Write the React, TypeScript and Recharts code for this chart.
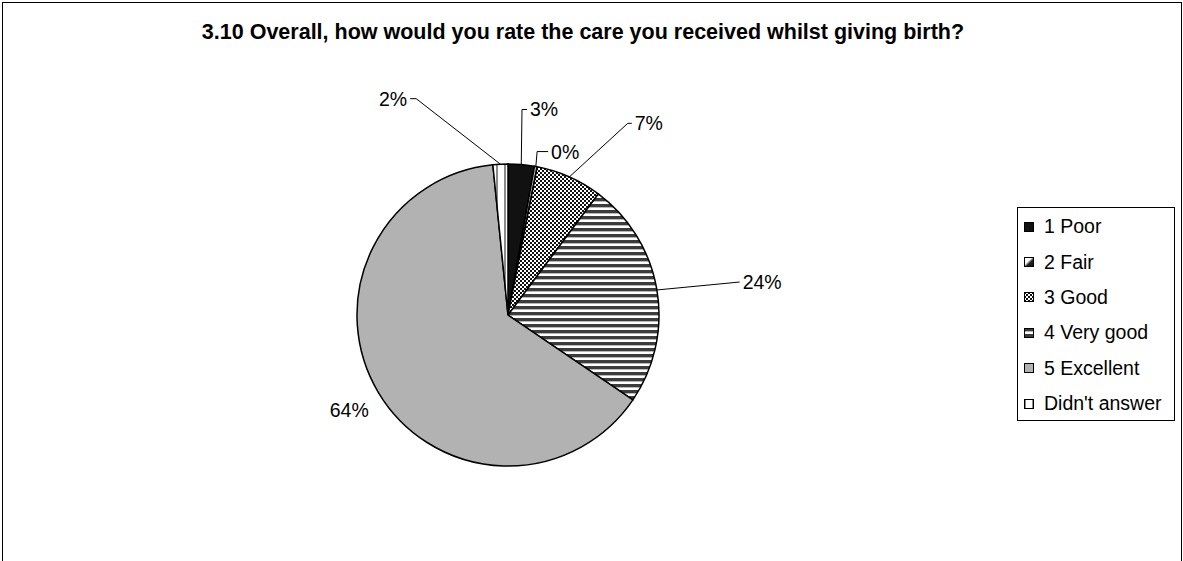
import { PieChart, Pie, Cell, Legend } from 'recharts';

const categories = ['1 Poor', '2 Fair', '3 Good', '4 Very good', '5 Excellent', "Didn't answer"];
const shares = [2.8, 0.3, 7.1, 24.3, 63.9, 1.6];
const fills = ['#111111', 'url(#grad-fair)', 'url(#pat-good)', 'url(#pat-vgood)', '#b2b2b2', 'url(#pat-na)'];

// where each data label sits: angle clockwise from 12 o'clock, distance from the pie centre
const labelSpots = [
  { angle: 3.9, r: 206, tail: 5, line: true },
  { angle: 10.1, r: 166, tail: 11, line: true },
  { angle: 32.0, r: 226, tail: 4, line: true },
  { angle: 81.9, r: 234, tail: 0, line: true },
  { angle: 239.1, r: 185, tail: 0, line: false },
  { angle: 337.0, r: 235, tail: 6, line: true },
];

const font = '"Liberation Sans", Arial, sans-serif';
const RADIAN = Math.PI / 180;

const data = categories.map((name, i) => ({ name, value: shares[i] }));

const renderLabel = (props: any) => {
  const { cx, cy, midAngle, outerRadius, percent, index } = props;
  const spot = labelSpots[index];
  const mid = 90 - midAngle;
  const ax = cx + outerRadius * Math.sin(mid * RADIAN);
  const ay = cy - outerRadius * Math.cos(mid * RADIAN);
  const ex = cx + spot.r * Math.sin(spot.angle * RADIAN);
  const ey = cy - spot.r * Math.cos(spot.angle * RADIAN);
  const right = spot.angle < 180;
  const hx = ex + (right ? spot.tail : -spot.tail);
  const text = `${Math.round(percent * 100)}%`;
  return (
    <g key={`lbl-${index}`}>
      {spot.line && (
        <polyline points={`${ax},${ay} ${ex},${ey} ${hx},${ey}`} fill="none" stroke="#000" strokeWidth={1} />
      )}
      <text
        x={spot.line ? hx + (right ? 3 : -3) : ex}
        y={ey}
        textAnchor={spot.line ? (right ? 'start' : 'end') : 'middle'}
        dominantBaseline="central"
        fontFamily={font}
        fontSize={19.5}
        fill="#000"
      >
        {text}
      </text>
    </g>
  );
};

const LegendBox = () => (
  <div
    style={{
      border: '1px solid #000',
      background: '#fff',
      width: 158,
      height: 214,
      boxSizing: 'border-box',
      paddingTop: 1,
      fontFamily: font,
      fontSize: 19.5,
      color: '#000',
    }}
  >
    {categories.map((c, i) => (
      <div key={c} style={{ display: 'flex', alignItems: 'center', height: 35.4, paddingLeft: 6 }}>
        <svg width={10} height={10} style={{ flexShrink: 0 }}>
          <rect x={0.5} y={0.5} width={9} height={9} fill={fills[i]} stroke="#000" strokeWidth={1} />
        </svg>
        <span style={{ marginLeft: 10, whiteSpace: 'nowrap' }}>{c}</span>
      </div>
    ))}
  </div>
);

const Patterns = () => (
  <svg width={0} height={0} style={{ position: 'absolute' }}>
    <defs>
      <linearGradient id="grad-fair" x1="0" y1="0" x2="1" y2="1">
        <stop offset="0%" stopColor="#fff" />
        <stop offset="40%" stopColor="#fff" />
        <stop offset="60%" stopColor="#222" />
        <stop offset="100%" stopColor="#111" />
      </linearGradient>
      <pattern id="pat-good" width={4} height={4} patternUnits="userSpaceOnUse">
        <rect width={4} height={4} fill="#fff" />
        <rect x={0} y={0} width={2} height={2} fill="#111" />
        <rect x={2} y={2} width={2} height={2} fill="#111" />
      </pattern>
      <pattern id="pat-vgood" width={6} height={6} patternUnits="userSpaceOnUse">
        <rect width={6} height={6} fill="#fff" />
        <rect x={0} y={0} width={6} height={3} fill="#3c3c3c" />
        <rect x={0} y={3} width={6} height={1} fill="#b8b8b8" />
      </pattern>
      <pattern id="pat-na" width={8} height={8} patternUnits="userSpaceOnUse">
        <rect width={8} height={8} fill="#fff" />
        <rect x={0} y={0} width={2} height={8} fill="#8a8a8a" />
      </pattern>
    </defs>
  </svg>
);

export default function App() {
  return (
    <div style={{ position: 'absolute', left: 0, top: 0, width: 1183, height: 561, background: '#fff', overflow: 'hidden' }}>
      <Patterns />
      <div
        style={{
          position: 'absolute',
          left: 2,
          top: 2,
          width: 1180,
          height: 570,
          border: '1px solid #000',
          boxSizing: 'border-box',
        }}
      />
      <div
        style={{
          position: 'absolute',
          left: 0,
          width: 1166,
          top: 20,
          textAlign: 'center',
          fontFamily: font,
          fontWeight: 'bold',
          fontSize: 21.5,
          color: '#000',
          whiteSpace: 'nowrap',
        }}
      >
        3.10 Overall, how would you rate the care you received whilst giving birth?
      </div>
      <div style={{ position: 'absolute', left: 0, top: 0 }}>
        <PieChart width={1183} height={561} margin={{ top: 0, right: 0, bottom: 0, left: 0 }}>
          <Pie
            data={data}
            dataKey="value"
            nameKey="name"
            cx={508}
            cy={315}
            outerRadius={151}
            startAngle={90}
            endAngle={-270}
            stroke="#000"
            strokeWidth={1.5}
            label={renderLabel}
            labelLine={false}
            isAnimationActive={false}
          >
            {data.map((d, i) => (
              <Cell key={d.name} fill={fills[i]} />
            ))}
          </Pie>
          <Legend
            layout="vertical"
            align="right"
            verticalAlign="middle"
            content={() => <LegendBox />}
            wrapperStyle={{ left: 1017, top: 207, width: 158, right: 'auto', bottom: 'auto' }}
          />
        </PieChart>
      </div>
    </div>
  );
}
